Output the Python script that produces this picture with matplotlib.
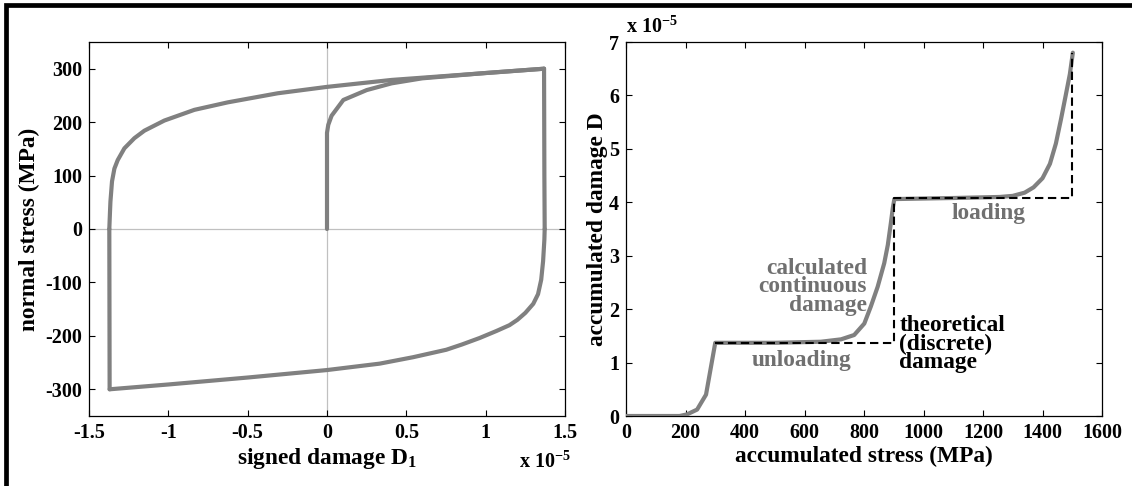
import matplotlib
matplotlib.use("Agg")
import matplotlib.pyplot as plt
from matplotlib.lines import Line2D
import numpy as np

plt.rcParams['font.family'] = ['Liberation Serif', 'DejaVu Serif']
plt.rcParams['font.weight'] = 'bold'
plt.rcParams['mathtext.fontset'] = 'custom'
plt.rcParams['mathtext.rm'] = 'Liberation Serif:bold'
plt.rcParams['mathtext.it'] = 'Liberation Serif:bold'
plt.rcParams['mathtext.bf'] = 'Liberation Serif:bold'
plt.rcParams['mathtext.default'] = 'rm'
plt.rcParams['axes.unicode_minus'] = False

# ---------------- data: left panel (signed damage, x1e-5 ; stress MPa) ----------------
init_x = [0.0, 0.0, 0.008, 0.029, 0.103, 0.25, 0.407, 0.6, 1.0, 1.368]
init_y = [0.0, 180, 195, 212, 241.5, 260, 272.6, 282, 292, 300]

right_edge_x = [1.368, 1.370, 1.372]
right_edge_y = [300, 100, 0]

lower_x = [1.372, 1.370, 1.362, 1.350, 1.330, 1.300, 1.250, 1.200, 1.150, 1.067, 0.962,
           0.852, 0.752, 0.542, 0.332, 0.0, -0.5, -1.0, -1.370]
lower_y = [0, -20, -60, -95, -122, -140, -157, -170, -180, -191, -204,
           -216, -226, -240, -252, -264, -278, -291, -300]

left_edge_x = [-1.370, -1.372]
left_edge_y = [-300, 0]

upper_x = [-1.372, -1.368, -1.365, -1.355, -1.340, -1.319, -1.277, -1.214, -1.151,
           -1.025, -0.836, -0.626, -0.311, 0.0, 0.407, 1.038, 1.368]
upper_y = [0, 30, 51, 89, 113, 129, 151, 170, 184,
           203, 223, 237, 254, 266, 279, 292.7, 300]

left_xticks = [-1.5, -1, -0.5, 0, 0.5, 1, 1.5]
left_xticklabels = ['-1.5', '-1', '-0.5', '0', '0.5', '1', '1.5']
left_yticks = [-300, -200, -100, 0, 100, 200, 300]

# ---------------- data: right panel (accumulated stress MPa ; damage x1e-5) ----------------
cont_x = [0, 180, 205, 239, 269, 300, 500, 655, 723, 767, 801, 823, 846, 868, 880,
          890, 897, 902, 1100, 1257, 1300, 1340, 1370, 1400, 1425, 1445, 1462, 1478,
          1492, 1502]
cont_y = [0, 0, 0.03, 0.12, 0.4, 1.37, 1.37, 1.39, 1.435, 1.516, 1.73, 2.05, 2.42, 2.86, 3.2,
          3.6, 3.9, 4.06, 4.08, 4.10, 4.12, 4.18, 4.28, 4.45, 4.72, 5.1, 5.55, 6.0,
          6.4, 6.8]

disc_x = [300, 900, 900, 1500, 1500]
disc_y = [1.37, 1.37, 4.08, 4.08, 6.8]

right_xticks = [0, 200, 400, 600, 800, 1000, 1200, 1400, 1600]
right_yticks = [0, 1, 2, 3, 4, 5, 6, 7]

GRAY = '#808080'
TGRAY = '#707070'

W, H = 1132, 486
fig = plt.figure(figsize=(W / 100, H / 100), dpi=100)

def px_axes(x0, y0, x1, y1):
    return fig.add_axes([x0 / W, 1 - y1 / H, (x1 - x0) / W, (y1 - y0) / H])

ax1 = px_axes(89, 42, 565, 416)
ax2 = px_axes(626, 42, 1102, 416)

for ax in (ax1, ax2):
    ax.tick_params(direction='in', length=4.5, width=0.8, top=True, right=True,
                   labelsize=14.5, pad=5)
    for s in ax.spines.values():
        s.set_linewidth(0.9)

# left panel
ax1.axhline(0, color='#c0c0c0', lw=0.9, zorder=1)
ax1.axvline(0, color='#c0c0c0', lw=0.9, zorder=1)
kw = dict(color=GRAY, lw=3, solid_joinstyle='round', solid_capstyle='round', zorder=3)
ax1.plot(init_x, init_y, **kw)
ax1.plot(right_edge_x, right_edge_y, **kw)
ax1.plot(lower_x, lower_y, **kw)
ax1.plot(left_edge_x, left_edge_y, **kw)
ax1.plot(upper_x, upper_y, **kw)
ax1.set_xlim(-1.5, 1.5)
ax1.set_ylim(-350, 350)
ax1.set_xticks(left_xticks)
ax1.set_xticklabels(left_xticklabels)
ax1.set_yticks(left_yticks)
ax1.set_yticklabels([str(v) for v in left_yticks])
ax1.set_xlabel('signed damage D$_{1}$', fontsize=16.8, fontweight='bold', labelpad=2)
ax1.set_ylabel('normal stress (MPa)', fontsize=16.8, fontweight='bold', labelpad=4)
ax1.text(1.012, -0.095, 'x 10$^{-5}$', transform=ax1.transAxes, ha='right', va='top',
         fontsize=14.5)

# right panel
ax2.plot(cont_x, cont_y, **kw)
ax2.plot(disc_x, disc_y, color='black', lw=1.5, dashes=(4, 2.2), zorder=4)
ax2.set_xlim(0, 1600)
ax2.set_ylim(0, 7)
ax2.set_xticks(right_xticks)
ax2.set_xticklabels([str(v) for v in right_xticks])
ax2.set_yticks(right_yticks)
ax2.set_yticklabels([str(v) for v in right_yticks])
ax2.set_xlabel('accumulated stress (MPa)', fontsize=16.8, fontweight='bold', labelpad=2)
ax2.set_ylabel('accumulated damage D', fontsize=16.8, fontweight='bold', labelpad=1)
ax2.text(0.0, 1.01, 'x 10$^{-5}$', transform=ax2.transAxes, ha='left', va='bottom',
         fontsize=14.5)

ax2.text(810, 1.97, 'calculated\ncontinuous\ndamage', color=TGRAY, ha='right',
         va='baseline', multialignment='right', fontsize=16.8, linespacing=0.85)
ax2.text(919, 0.89, 'theoretical\n(discrete)\ndamage', color='black', ha='left',
         va='baseline', multialignment='left', fontsize=16.8, linespacing=0.85)
ax2.text(591, 0.94, 'unloading', color=TGRAY, ha='center', va='baseline', fontsize=16.8)
ax2.text(1217, 3.68, 'loading', color=TGRAY, ha='center', va='baseline', fontsize=16.8)

# partial black frame (top and left)
fig.add_artist(Line2D([5.5 / W, 5.5 / W, 1.01], [-0.01, 1 - 5.5 / H, 1 - 5.5 / H],
                      transform=fig.transFigure, color='black', lw=3.4,
                      solid_joinstyle='miter'))

fig.savefig('out.png', dpi=100)
